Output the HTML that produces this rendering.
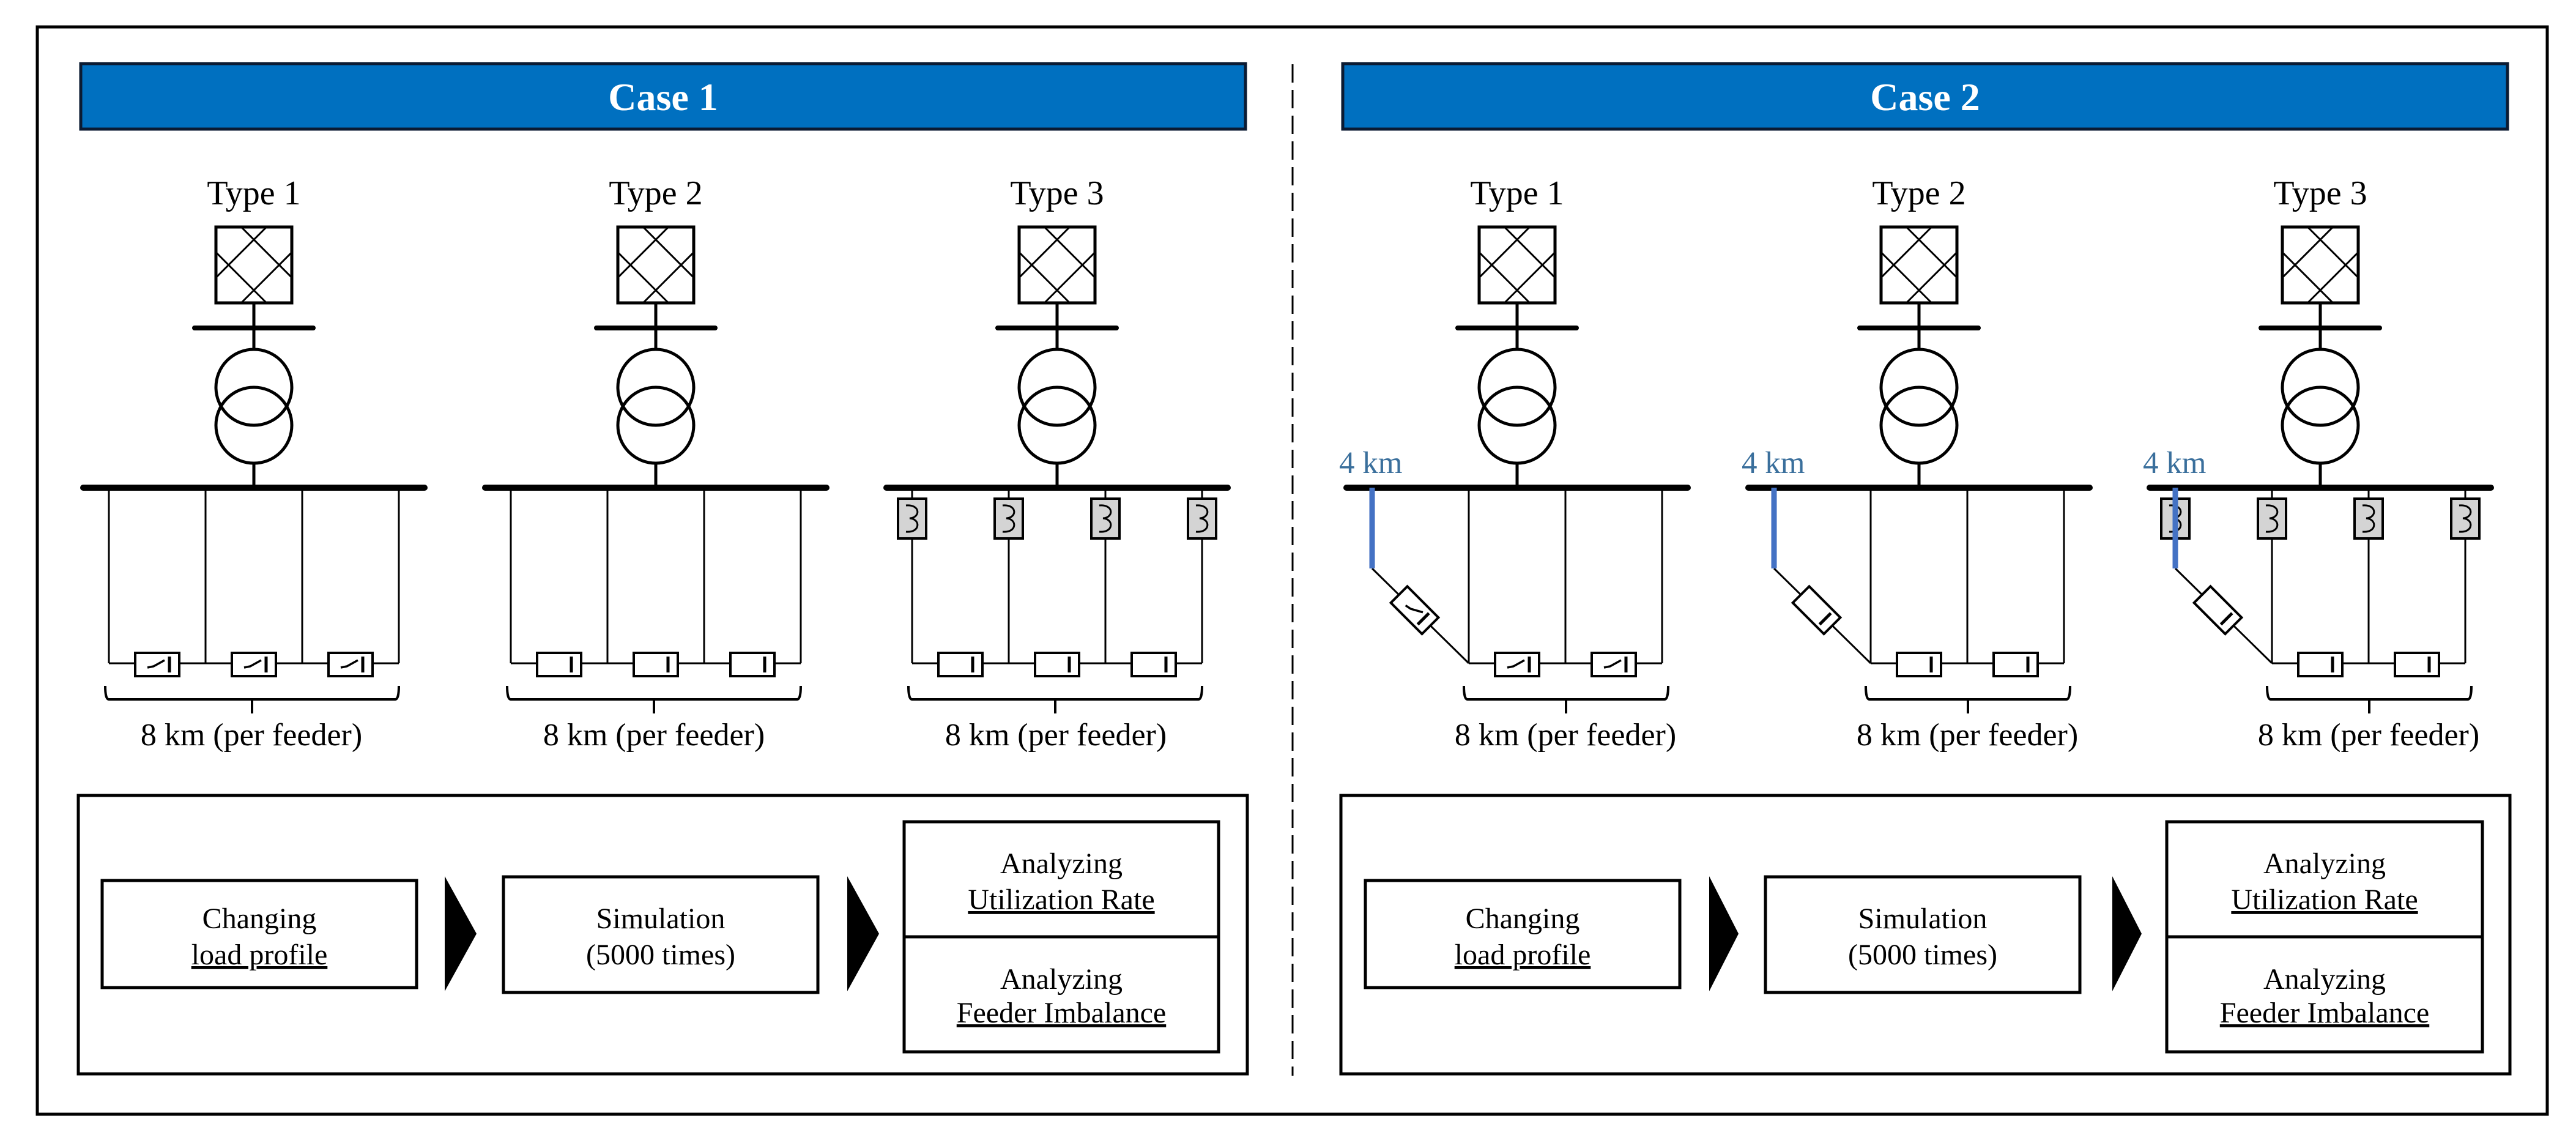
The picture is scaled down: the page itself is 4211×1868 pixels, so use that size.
<!DOCTYPE html>
<html><head><meta charset="utf-8">
<style>
html,body{margin:0;padding:0;background:#fff;}
svg{display:block;}
svg text{font-family:"Liberation Serif","DejaVu Serif",serif;}
</style></head>
<body>
<svg id="s" xmlns="http://www.w3.org/2000/svg" width="4211" height="1868" viewBox="0 0 4211 1868" font-family="Liberation Serif, serif">
<rect x="0" y="0" width="4211" height="1868" fill="#fff"/>
<rect x="61" y="44" width="4103" height="1777" fill="none" stroke="#000" stroke-width="5"/>
<line x1="2113" y1="105" x2="2113" y2="1758" stroke="#000" stroke-width="3" stroke-dasharray="30,12"/>
<rect x="132" y="104" width="1904" height="107" fill="#0070c0" stroke="#0b1b33" stroke-width="5"/>
<rect x="2195" y="104" width="1904" height="107" fill="#0070c0" stroke="#0b1b33" stroke-width="5"/>
<text x="1084" y="180" font-size="64" font-weight="bold" fill="#fff" text-anchor="middle" font-family="Liberation Serif, serif">Case 1</text>
<text x="3147" y="180" font-size="64" font-weight="bold" fill="#fff" text-anchor="middle" font-family="Liberation Serif, serif">Case 2</text>

<g id="diag"></g>

<g font-size="56" text-anchor="middle" fill="#000" font-family="Liberation Serif, serif">
<text x="415" y="334">Type 1</text>
<text x="1072" y="334">Type 2</text>
<text x="1728" y="334">Type 3</text>
<text x="2480" y="334">Type 1</text>
<text x="3137" y="334">Type 2</text>
<text x="3793" y="334">Type 3</text>
</g>
<g font-size="52" text-anchor="middle" fill="#000" font-family="Liberation Serif, serif">
<text x="411" y="1218">8 km (per feeder)</text>
<text x="1069" y="1218">8 km (per feeder)</text>
<text x="1726" y="1218">8 km (per feeder)</text>
<text x="2559" y="1218">8 km (per feeder)</text>
<text x="3216" y="1218">8 km (per feeder)</text>
<text x="3872" y="1218">8 km (per feeder)</text>
</g>
<g font-size="51" fill="#3a6f9c" font-family="Liberation Serif, serif">
<text x="2189" y="773">4 km</text>
<text x="2847" y="773">4 km</text>
<text x="3503" y="773">4 km</text>
</g>

<g fill="none" stroke="#000" stroke-width="5">
<rect x="128" y="1300" width="1911" height="455"/>
<rect x="167" y="1439" width="514" height="175"/>
<rect x="823" y="1433" width="514" height="189"/>
<rect x="1478" y="1343" width="514" height="376"/>
<line x1="1478" y1="1531" x2="1992" y2="1531"/>
<rect x="2192" y="1300" width="1911" height="455"/>
<rect x="2232" y="1439" width="514" height="175"/>
<rect x="2886" y="1433" width="514" height="189"/>
<rect x="3542" y="1343" width="516" height="376"/>
<line x1="3542" y1="1531" x2="4058" y2="1531"/>
</g>
<g fill="#000">
<polygon points="727,1432 779,1526 727,1620"/>
<polygon points="1385,1432 1437,1526 1385,1620"/>
<polygon points="2794,1432 2842,1526 2794,1620"/>
<polygon points="3453,1432 3501,1526 3453,1620"/>
</g>
<g font-size="48" text-anchor="middle" fill="#000" font-family="Liberation Serif, serif">
<text x="424" y="1517">Changing</text>
<text x="424" y="1576" text-decoration="underline">load profile</text>
<text x="1080" y="1517">Simulation</text>
<text x="1080" y="1576">(5000 times)</text>
<text x="1735" y="1427">Analyzing</text>
<text x="1735" y="1486" text-decoration="underline">Utilization Rate</text>
<text x="1735" y="1616">Analyzing</text>
<text x="1735" y="1671" text-decoration="underline">Feeder Imbalance</text>
<text x="2489" y="1517">Changing</text>
<text x="2489" y="1576" text-decoration="underline">load profile</text>
<text x="3143" y="1517">Simulation</text>
<text x="3143" y="1576">(5000 times)</text>
<text x="3800" y="1427">Analyzing</text>
<text x="3800" y="1486" text-decoration="underline">Utilization Rate</text>
<text x="3800" y="1616">Analyzing</text>
<text x="3800" y="1671" text-decoration="underline">Feeder Imbalance</text>
</g>
</svg>
<script>
(function(){
var NS="http://www.w3.org/2000/svg";
var g=document.getElementById("diag");
function el(t,a,p){var e=document.createElementNS(NS,t);for(var k in a)e.setAttribute(k,a[k]);(p||g).appendChild(e);return e;}
function L(x1,y1,x2,y2,w,c,cap){el("line",{x1:x1,y1:y1,x2:x2,y2:y2,stroke:c||"#000","stroke-width":w,"stroke-linecap":cap||"butt"});}
function breaker(cx,cy,ang,sw){
  var gg=el("g",{transform:"translate("+cx+","+cy+") rotate("+ang+")"});
  el("rect",{x:-36,y:-19,width:72,height:38,fill:"#fff",stroke:"#000","stroke-width":4},gg);
  el("line",{x1:20,y1:-13,x2:20,y2:13,stroke:"#000","stroke-width":5},gg);
  if(sw){el("path",{d:"M-16,5 L-6,3 L12,-7",fill:"none",stroke:"#000","stroke-width":3.5},gg);}
}
function fuse(f){
  L(f,797,f,815,3);
  el("rect",{x:f-23,y:815,width:46,height:65,fill:"#d4d4d4",stroke:"#000","stroke-width":4});
  el("path",{d:"M"+(f-10)+",826 C"+(f+14)+",824 "+(f+14)+",846 "+(f-4)+",847 C"+(f+14)+",848 "+(f+14)+",871 "+(f-10)+",869",fill:"none",stroke:"#000","stroke-width":3});
}
function station(cx,cs,type){
  var x0=cx-62,y0=371,w=124,h=124;
  el("rect",{x:x0,y:y0,width:w,height:h,fill:"#fff",stroke:"#000","stroke-width":5});
  var a=w/3,b=h/3;
  L(x0,y0+b,x0+2*a,y0+h,3);L(x0+a,y0,x0+w,y0+2*b,3);
  L(x0,y0+2*b,x0+2*a,y0,3);L(x0+a,y0+h,x0+w,y0+b,3);
  L(cx,495,cx,571,5);L(cx,757,cx,797,5);
  L(cx-97,536,cx+97,536,8,"#000","round");
  el("circle",{cx:cx,cy:633,r:62,fill:"none",stroke:"#000","stroke-width":5});
  el("circle",{cx:cx,cy:695,r:62,fill:"none",stroke:"#000","stroke-width":5});
  L(cx-279,797,cx+279,797,10,"#000","round");
  var f=[];for(var i=0;i<4;i++)f.push(cx-237+158*i);
  var start=(cs==1)?0:1;
  for(var i=0;i<4;i++){
    var top=797;
    if(type==3){fuse(f[i]);top=880;}
    if(cs==2&&i==0){
      L(f[0],929,f[1],1084,3);
      L(f[0],797,f[0],929,9,"#4472c4");
      var t=0.44;breaker(f[0]+t*(f[1]-f[0]),929+t*155,45,type==1);
    } else {
      L(f[i],top,f[i],1084,3);
    }
  }
  L(f[start],1084,f[3],1084,3);
  for(var i=start;i<3;i++)breaker((f[i]+f[i+1])/2,1086,0,type==1);
  var bx1=(cs==1)?f[0]-6:f[1]-8, bx2=(cs==1)?f[3]:f[3]+10, bm=(bx1+bx2)/2;
  el("path",{d:"M"+bx1+",1121 Q"+bx1+",1143 "+(bx1+6)+",1143 L"+(bx2-6)+",1143 Q"+bx2+",1143 "+bx2+",1121",fill:"none",stroke:"#000","stroke-width":4});
  L(bm,1143,bm,1166,4);
}
station(415,1,1);station(1072,1,2);station(1728,1,3);
station(2480,2,1);station(3137,2,2);station(3793,2,3);
})();
</script>
</body></html>
